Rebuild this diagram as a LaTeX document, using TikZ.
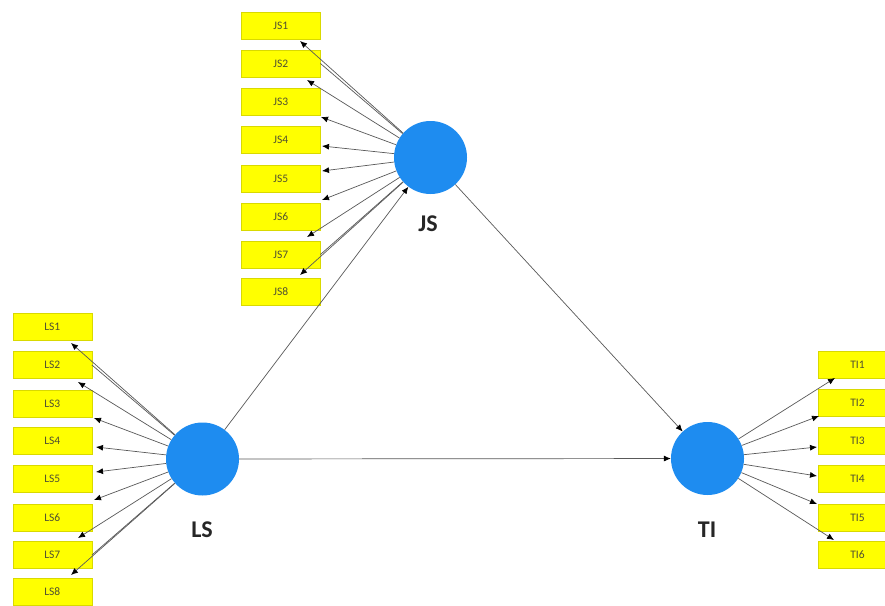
\documentclass[tikz,border=0pt]{standalone}
\usepackage{fontspec}
\setmainfont{Carlito}
\usetikzlibrary{arrows.meta}
\definecolor{lvblue}{RGB}{30,140,240}
\definecolor{indfill}{RGB}{255,255,0}
\definecolor{indtext}{RGB}{80,80,50}
\begin{document}
\begin{tikzpicture}[x=1pt,y=-1pt,
  ind/.style={rectangle, fill=indfill, draw=indfill!85!black, line width=0.4pt,
    minimum width=79pt, minimum height=27pt, inner sep=0pt,
    font=\fontsize{11.5}{11.5}\selectfont, text=indtext},
  lv/.style={circle, fill=lvblue, minimum size=73pt, inner sep=0pt},
  lbl/.style={font=\fontsize{24}{24}\selectfont\bfseries, text=black!85},
  con/.style={draw=black!65, line width=0.7pt},
  arr/.style={con, -{Latex[length=7pt,width=6pt,color=black]}}
]
\clip (0,0) rectangle (885,605);
\fill[white] (0,0) rectangle (885,605);
% latent variables
\node[lv] (JS) at (430.5,157.5) {};
\node[lv] (LS) at (202.5,459) {};
\node[lv] (TI) at (707.5,458.5) {};
\node[lbl] (JSl) at (428,224) {JS};
\node[lbl] (LSl) at (202,530) {LS};
\node[lbl] (TIl) at (707,530) {TI};
% JS indicators
\foreach \i/\y in {1/25.5,2/63.5,3/101.5,4/140,5/178.5,6/216.5,7/254.5,8/291.5}
  \node[ind] (JS\i) at (280.75,\y) {JS\i};
% LS indicators
\foreach \i/\y in {1/326.5,2/365,3/403.5,4/441,5/479,6/517.5,7/555,8/592}
  \node[ind] (LS\i) at (52.25,\y) {LS\i};
% TI indicators
\foreach \i/\y in {1/365,2/402.5,3/440.5,4/479,5/517.5,6/555}
  \node[ind] (TI\i) at (857.5,\y) {TI\i};
% arrow end points
\foreach \i/\x/\y in {1/300/41,2/307/80,3/321/117,4/322/146,5/322/171,6/322/200,7/307/237,8/300/275}
  \coordinate (je\i) at (\x,\y);
\foreach \i/\x/\y in {1/71/343,2/78/382,3/94/418,4/96/447,5/96/472,6/94/500,7/78/538,8/71/575}
  \coordinate (le\i) at (\x,\y);
\foreach \i/\x/\y in {1/835/378,2/819/416,3/817/447,4/817/476,5/817/504,6/834/540}
  \coordinate (te\i) at (\x,\y);
% loadings
\foreach \i in {1,...,8} \draw[arr] (JS) -- (je\i);
\foreach \i in {1,...,8} \draw[arr] (LS) -- (le\i);
\foreach \i in {1,...,6} \draw[arr] (TI) -- (te\i);
\draw[con] (JS2.east) -- (JS);
\draw[con] (JS7.east) -- (JS);
\draw[con] (LS2.east) -- (LS);
\draw[con] (LS7.east) -- (LS);
% structural paths
\draw[arr] (LS) -- (JS);
\draw[arr] (JS) -- (TI);
\draw[arr] (LS) -- (TI);
\end{tikzpicture}
\end{document}
